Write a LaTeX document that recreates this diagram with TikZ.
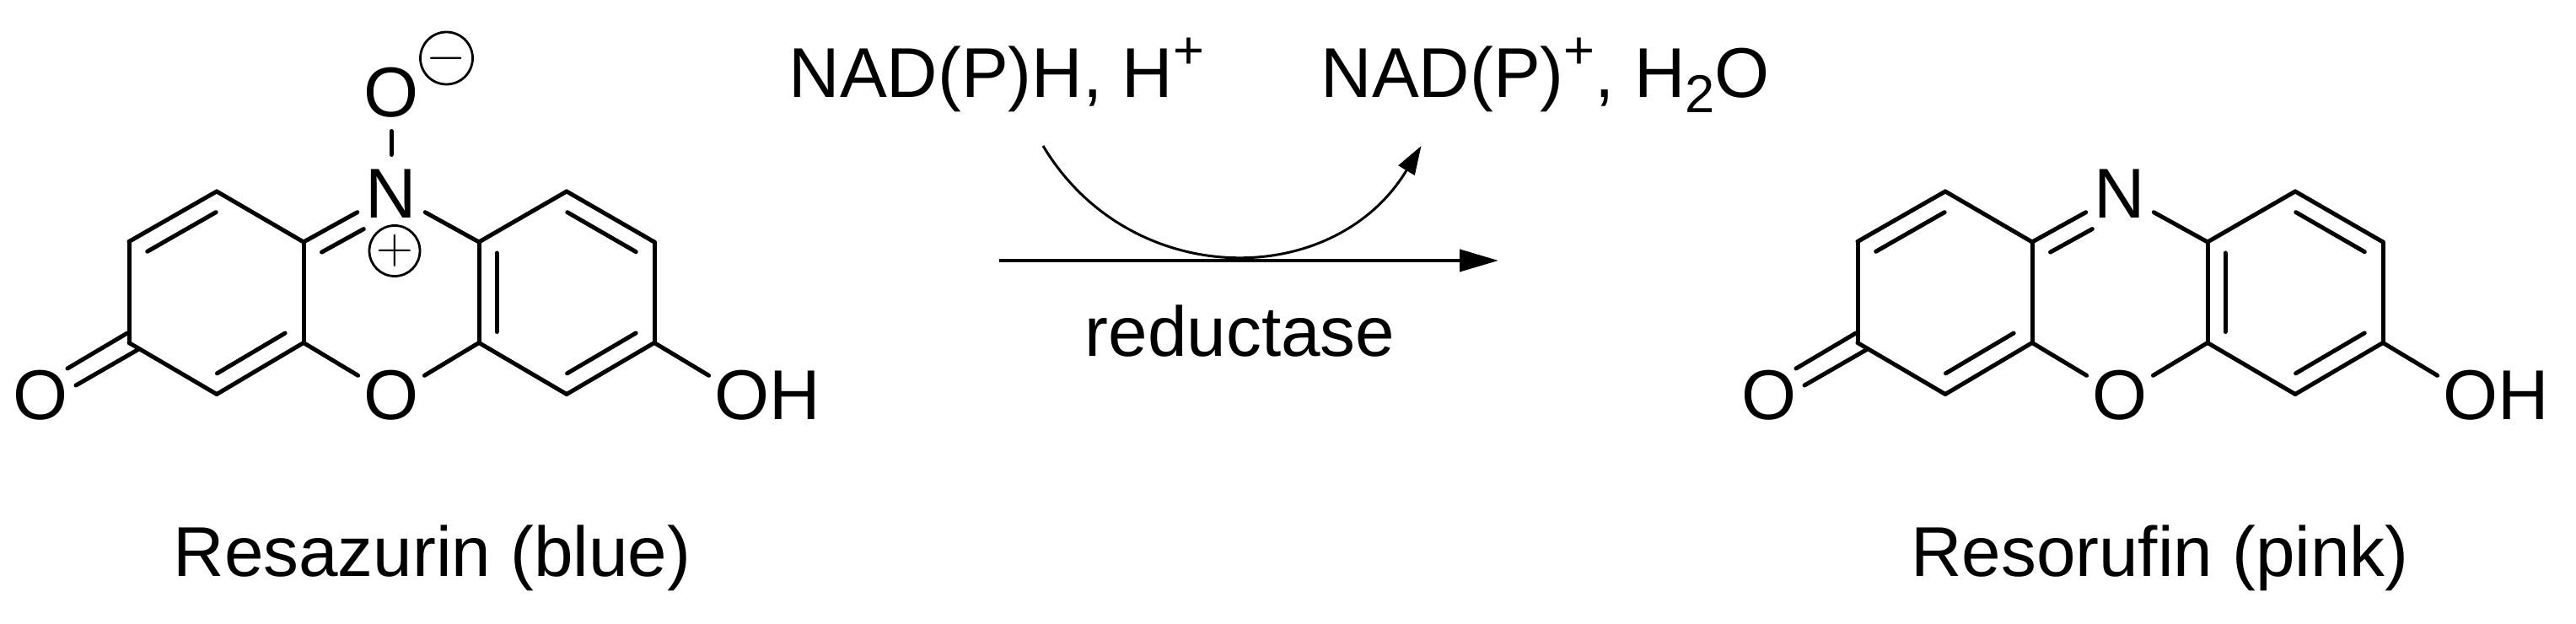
\documentclass[tikz,border=0pt]{standalone}
\usepackage{fontspec}
\setmainfont{Liberation Sans}
\usetikzlibrary{calc,arrows.meta}
\tikzset{
  bond/.style={line width=.05cm,line cap=round},
  atom/.style={circle,inner sep=0,outer sep=0,minimum size=.92cm},
  charge/.style={circle,draw,line width=.028cm,inner sep=0,minimum size=.6cm,font=\fontsize{16}{16}\selectfont},
  caption/.style={anchor=base,inner sep=0},
  cofactor/.style={anchor=base west,inner sep=0}
}
\newcommand{\innerbond}[2]{\draw[bond] ($(#1)!.13cm!(#2)!.21cm!90:(#2)$) -- ($(#2)!.13cm!(#1)!.21cm!-90:(#1)$);}
\newcommand{\supt}[1]{\raisebox{.34cm}{\fontsize{18}{18}\selectfont #1}}
\newcommand{\subt}[1]{\raisebox{-.18cm}{\fontsize{18}{18}\selectfont #1}}
\begin{document}
\begin{tikzpicture}[font=\fontsize{23.8}{24}\selectfont]
\useasboundingbox (0,0) rectangle (30.55,7.39);
\foreach \m/\dx in {az/0,ru/20.5}{
\begin{scope}[shift={(\dx,0)},name prefix=\m-]
\foreach \c/\x/\y in {c1/1.53/4.525,c2/2.57/5.12,c3/3.60/4.52,c4/3.60/3.325,c5/2.57/2.715,c6/1.53/3.325,
  c7/5.68/4.52,c8/6.72/5.12,c9/7.76/4.52,c10/7.76/3.325,c11/6.72/2.715,c12/5.68/3.325,
  ka/1.51/3.44,kb/.80/3.02,kc/1.63/3.24,kd/.90/2.82}
  \coordinate (\c) at (\x,\y);
\node[atom] (n) at (4.64,5.095) {N};
\node[atom] (o) at (4.64,2.70) {O};
\node[atom] (k) at (.48,2.70) {O};
\node[atom] (oh) at (8.80,2.70) {O\rlap{H}};
\foreach \a/\b in {c1/c2,c2/c3,c3/c4,c4/c5,c5/c6,c6/c1,c7/c8,c8/c9,c9/c10,c10/c11,c11/c12,c12/c7,
  c3/n,n/c7,c4/o,o/c12,c10/oh,ka/kb,kc/kd}
  \draw[bond] (\a) -- (\b);
\coordinate (nb) at ($(n)!.36cm!(c3)$);
\foreach \a/\b in {c2/c1,c5/c4,nb/c3,c7/c12,c9/c8,c11/c10}{
  \innerbond{\a}{\b}
}
\end{scope}
}
\node[caption] (azname) at (5.125,.56) {Resazurin (blue)};
\node[caption] (runame) at (25.615,.56) {Resorufin (pink)};
\node[atom] (az-ot) at (4.64,6.295) {O};
\draw[bond] (az-n) -- (az-ot);
\node[charge] (minus) at (5.295,6.70) {$-$};
\node[charge] (plus) at (4.68,4.415) {$+$};
\node[cofactor] (cofa) at (9.35,6.23) {NAD(P)H, H\supt{+}};
\node[cofactor] (cofb) at (15.66,6.23) {NAD(P)\supt{+}, H\subt{2}O};
\node[caption] (enz) at (14.705,3.16) {reductase};
\coordinate (rxa) at (11.85,4.30);
\coordinate (rxb) at (17.77,4.30);
\coordinate (cua) at (12.37,5.66);
\coordinate (cub) at (16.855,5.66);
\draw[line width=.04cm,-{Triangle[length=.46cm,width=.26cm]}] (rxa) -- (rxb);
\draw[line width=.03cm,-{Triangle[length=.34cm,width=.22cm]}] (cua) .. controls (13.40,3.94) and (15.82,3.94) .. (cub);
\end{tikzpicture}
\end{document}
